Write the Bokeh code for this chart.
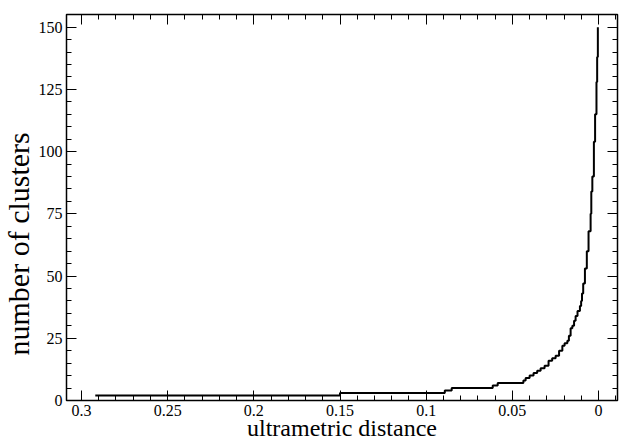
from bokeh.plotting import figure
from bokeh.models import Range1d, LinearAxis, SingleIntervalTicker, CustomJSTickFormatter, Title
from bokeh.embed import file_html
from bokeh.resources import INLINE

# ultrametric distance at which the number of clusters changes (decreasing)
distance = [0.292, 0.150, 0.0892, 0.0852, 0.0614, 0.0585,
            0.0436, 0.0423, 0.0400, 0.0377, 0.0356, 0.0336, 0.0313, 0.0290,
            0.0269, 0.0249, 0.0229, 0.0210, 0.0197, 0.0181, 0.0172, 0.0162,
            0.0152, 0.0142, 0.0133, 0.0122, 0.0108, 0.0101, 0.0096, 0.0089,
            0.0079, 0.0068, 0.0058, 0.0046, 0.0042, 0.0036, 0.0027, 0.0020,
            0.0012, 0.0008, 0.0004]
clusters = [2, 3, 4, 5, 6, 7,
            8, 9, 10, 11, 12, 13, 14, 16,
            17, 18, 20, 22, 23, 24, 26, 29,
            30, 32, 34, 36, 38, 40, 43, 47,
            53, 60, 68, 75, 84, 90, 104, 115,
            128, 138, 150]

x_title = "ultrametric distance"
y_title = "number of clusters"

FONT = "Liberation Serif"

p = figure(width=625, height=443, output_backend="svg", toolbar_location=None,
           x_range=Range1d(0.3087, -0.011), y_range=Range1d(0, 155.1),
           x_axis_type=None, y_axis_type=None,
           min_border_left=65, min_border_right=8, min_border_top=14, min_border_bottom=43)
p.background_fill_color = "white"
p.border_fill_color = "white"
p.outline_line_color = "black"
p.outline_line_width = 1.5
p.xgrid.visible = False
p.ygrid.visible = False

fmt = CustomJSTickFormatter(code="""
if (Math.abs(tick) < 1e-9) return "0";
return tick.toFixed(2).replace(/0+$/, '').replace(/\\.$/, '');
""")
blank = CustomJSTickFormatter(code="return '';")

def style(ax, labels=True):
    ax.axis_line_color = "black"
    ax.major_tick_in = 10
    ax.major_tick_out = 0
    ax.minor_tick_in = 5
    ax.minor_tick_out = 0
    ax.major_tick_line_color = "black"
    ax.minor_tick_line_color = "black"
    ax.major_label_text_font = FONT
    ax.major_label_text_color = "black"
    ax.axis_label_text_font = FONT
    ax.axis_label_text_font_style = "normal"
    ax.axis_label_text_color = "black"
    if not labels:
        ax.formatter = blank
        ax.major_label_standoff = 0
        ax.major_label_text_font_size = "1px"

xb = LinearAxis(ticker=SingleIntervalTicker(interval=0.05, num_minor_ticks=5), formatter=fmt)
style(xb)
xb.major_label_text_font_size = "16px"
xb.major_label_standoff = 4
xb.axis_label = x_title
xb.axis_label_text_font_size = "24px"
xb.axis_label_standoff = -4
p.add_layout(xb, "below")

xt = LinearAxis(ticker=SingleIntervalTicker(interval=0.05, num_minor_ticks=5))
style(xt, labels=False)
p.add_layout(xt, "above")

yl = LinearAxis(ticker=SingleIntervalTicker(interval=25, num_minor_ticks=5))
style(yl)
yl.major_label_text_font_size = "16px"
yl.major_label_standoff = 4
p.add_layout(yl, "left")

yr = LinearAxis(ticker=SingleIntervalTicker(interval=25, num_minor_ticks=5))
style(yr, labels=False)
p.add_layout(yr, "right")

yt = Title(text=y_title, align="left", offset=45, standoff=0, vertical_align="middle",
           text_font=FONT, text_font_size="30px", text_font_style="normal", text_color="black")
p.add_layout(yt, "left")

p.step(distance, clusters, mode="after", line_color="black", line_width=2)

open("out.html", "w").write(file_html(p, INLINE))
